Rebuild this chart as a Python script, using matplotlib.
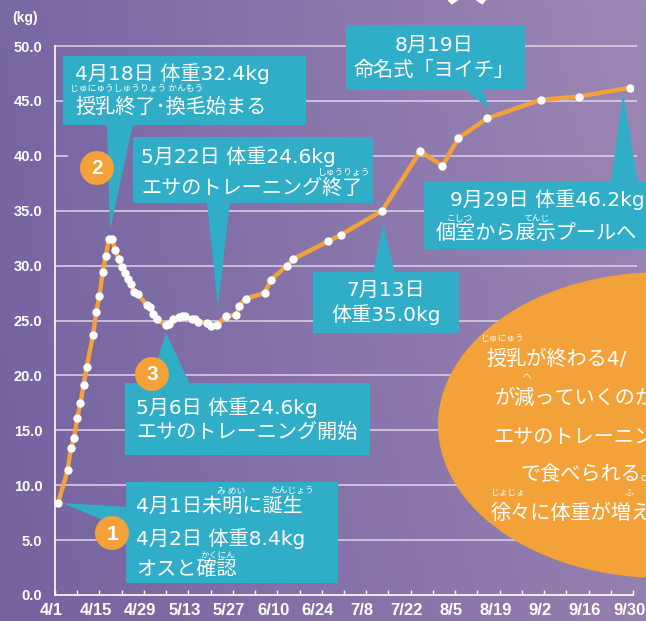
import numpy as np
import pandas as pd
import matplotlib
matplotlib.use("Agg")
import matplotlib.pyplot as plt
import matplotlib.dates as mdates
import matplotlib.transforms as mtransforms
from matplotlib.patches import Rectangle, Polygon, Circle, Ellipse

plt.rcParams['font.family'] = ['Noto Sans CJK JP', 'DejaVu Sans']
MIXED = ['DejaVu Sans', 'Noto Sans CJK JP']

# weight record (month/day, kg)
dates = ['4/2', '4/5', '4/6', '4/7', '4/8', '4/9', '4/10', '4/11', '4/13', '4/14',
         '4/15', '4/16', '4/17', '4/18', '4/19', '4/20', '4/21', '4/22', '4/23', '4/24',
         '4/25', '4/26', '4/27', '4/30', '5/1', '5/2', '5/3', '5/6', '5/7', '5/8',
         '5/10', '5/11', '5/12', '5/14', '5/15', '5/16', '5/19', '5/20', '5/22', '5/25',
         '5/28', '5/29', '5/31', '6/6', '6/8', '6/13', '6/15', '6/26', '6/30', '7/13',
         '7/25', '8/1', '8/6', '8/15', '9/1', '9/13', '9/29']
weights = [8.4, 11.4, 13.4, 14.3, 16.1, 17.5, 19.1, 20.8, 23.7, 25.8,
           27.2, 29.4, 30.9, 32.4, 32.4, 31.4, 30.6, 29.9, 29.3, 28.8,
           28.3, 27.6, 27.4, 26.4, 26.2, 25.6, 25.1, 24.6, 24.7, 25.1,
           25.3, 25.4, 25.4, 25.1, 25.1, 24.9, 24.8, 24.5, 24.6, 25.4,
           25.5, 26.3, 27.0, 27.5, 28.7, 30.0, 30.6, 32.2, 32.8, 35.0,
           40.4, 39.1, 41.6, 43.4, 45.1, 45.4, 46.2]
xtick_labels = ['4/1', '4/15', '4/29', '5/13', '5/27', '6/10', '6/24',
                '7/8', '7/22', '8/5', '8/19', '9/2', '9/16', '9/30']
yticks = np.arange(0, 51, 5)

YEAR = 2021
def to_dt(s):
    return pd.to_datetime(f'{YEAR}/{s}', format='%Y/%m/%d')

x = [to_dt(s) for s in dates]

ORANGE = '#f3a23a'
TEAL = '#31aec7'
GRID = '#ddd5ea'
W, H = 646, 621

fig = plt.figure(figsize=(W / 100, H / 100), dpi=100)

# background gradient
bg = fig.add_axes([0, 0, 1, 1], zorder=0)
tl, tr = np.array([0x77, 0x67, 0xa3]) / 255, np.array([0x9d, 0x87, 0xb5]) / 255
bl, br = np.array([0x75, 0x63, 0xa0]) / 255, np.array([0x94, 0x7f, 0xaf]) / 255
u = np.linspace(0, 1, 200)[None, :, None]
v = np.linspace(0, 1, 200)[:, None, None]
img = (1 - v) * ((1 - u) * tl + u * tr) + v * ((1 - u) * bl + u * br)
bg.imshow(img, aspect='auto', extent=[0, 1, 0, 1])
bg.axis('off')

# chart axes
ax = fig.add_axes([55 / W, 1 - 595 / H, (633 - 55) / W, (595 - 46) / H], zorder=1)
ax.set_facecolor('none')
x0, x1 = to_dt('4/1'), to_dt('9/30')
ax.set_xlim(x0, x1)
ax.set_ylim(0, 50)

for yv in yticks[1:]:
    if yv == 40:
        ax.hlines(yv, x0, x0 + pd.Timedelta(days=4), color=GRID, lw=1.1, zorder=1)
        ax.hlines(yv, x0 + pd.Timedelta(days=25), x1 + pd.Timedelta(days=1.3),
                  color=GRID, lw=1.1, zorder=1, clip_on=False)
    else:
        ax.hlines(yv, x0, x1 + pd.Timedelta(days=1.3), color=GRID, lw=1.1,
                  zorder=1, clip_on=False)

ax.plot(x, weights, color=ORANGE, lw=3.2, marker='o', ms=5,
        mfc='white', mec='white', zorder=3, solid_joinstyle='round')

ax.set_yticks(yticks)
ax.set_yticklabels([f'{v:.1f}' for v in yticks], family='Liberation Sans',
                   weight='bold', fontsize=10.5, color='white')
ax.tick_params(axis='y', length=0, pad=9)

ax.set_xticks([to_dt(s) for s in xtick_labels])
ax.set_xticklabels(xtick_labels, family=['Liberation Sans Narrow', 'Liberation Sans'],
                   weight='bold', fontsize=12, color='white')
ax.set_xticks(pd.date_range(x0, x1, freq='7D'), minor=True)
ax.tick_params(axis='x', which='both', direction='in', length=3.5, width=1,
               color='white', pad=6)
shift = mtransforms.ScaledTranslation(-4 / 100, 0, fig.dpi_scale_trans)
for lab in ax.get_xticklabels():
    lab.set_transform(lab.get_transform() + shift)
for s in ['top', 'right']:
    ax.spines[s].set_visible(False)
for s in ['left', 'bottom']:
    ax.spines[s].set_color('white')
    ax.spines[s].set_linewidth(1.2)

fig.text(12 / W, 1 - 18 / H, '(kg)', family='Liberation Sans', weight='bold',
         fontsize=10, color='white', va='center', ha='left')

# overlay in pixel coordinates for callouts
ov = fig.add_axes([0, 0, 1, 1], zorder=2)
ov.set_xlim(0, W)
ov.set_ylim(H, 0)
ov.axis('off')
ov.set_facecolor('none')

# bottom of the page title peeking in at the top edge
ov.text(466, 0, '大', fontsize=30, color='white', ha='center', va='baseline',
        weight='bold')

def box(x_a, y_a, x_b, y_b, ptr):
    ov.add_patch(Rectangle((x_a, y_a), x_b - x_a, y_b - y_a, color=TEAL, lw=0))
    ov.add_patch(Polygon(ptr, closed=True, color=TEAL, lw=0))

def txt(px, py, s, size=14.5, ha='left'):
    ov.text(px, py, s, fontsize=size, color='white', ha=ha, va='center',
            family=MIXED)

def ruby(px, py, s):
    ov.text(px, py, s, fontsize=6.3, color='white', ha='left', va='center')

def badge(px, py, n):
    ov.add_patch(Circle((px, py), 17, color=ORANGE, lw=0))
    ov.text(px, py + 1, n, fontsize=15, color='white', ha='center', va='center',
            family='Liberation Sans', weight='bold')

# (2) April 18
box(63, 56, 306, 125, [(107, 124), (133, 124), (110, 230)])
txt(75, 74, '4月18日 体重32.4kg')
ruby(70, 89, 'じゅにゅうしゅうりょう かんもう')
txt(75, 107, '授乳終了･換毛始まる')
badge(97, 168, '2')

# May 22
box(133, 137, 373, 203, [(207, 202), (230, 202), (218, 307)])
txt(141, 157, '5月22日 体重24.6kg')
ruby(318, 172, 'しゅうりょう')
txt(141, 188, 'エサのトレーニング終了')

# Aug 19
box(346, 25, 525, 90, [(465, 89), (482, 89), (490, 110)])
txt(434, 45, '8月19日', ha='center')
txt(434, 70, '命名式「ヨイチ」', ha='center')

# Sep 29
box(424, 182, 660, 249, [(611, 183), (638, 183), (623, 92)])
txt(450, 200, '9月29日 体重46.2kg')
ruby(447, 218, 'こしつ')
ruby(523, 218, 'てんじ')
txt(436, 233, '個室から展示プールへ')

# July 13
box(313, 272, 459, 333, [(373, 273), (395, 273), (383, 223)])
txt(386, 290, '7月13日', ha='center')
txt(386, 315, '体重35.0kg', ha='center')

# (3) May 6
box(125, 383, 370, 455, [(150, 384), (190, 384), (166, 333)])
badge(152, 374, '3')
txt(136, 408, '5月6日 体重24.6kg')
txt(136, 432, 'エサのトレーニング開始')

# (1) birth
box(126, 482, 338, 583, [(62, 503), (127, 507), (127, 530)])
badge(112, 533, '1')
ruby(217, 491, 'み めい')
ruby(270, 491, 'たんじょう')
txt(136, 507, '4月1日未明に誕生')
txt(136, 539, '4月2日 体重8.4kg')
ruby(200, 555, 'かくにん')
txt(136, 569, 'オスと確認')

# orange note blob (runs off the right edge, as in the source)
ov.add_patch(Ellipse((662, 425), 448, 306, color=ORANGE, lw=0))
ruby(480, 339, 'じゅにゅう')
txt(486, 359, '授乳が終わる4/')
ruby(523, 377, 'へ')
txt(495, 398, 'が減っていくのか')
txt(493, 437, 'エサのトレーニン')
txt(520, 475, 'で食べられる。')
ruby(490, 493, 'じょじょ')
ruby(625, 493, 'ふ')
txt(491, 513, '徐々に体重が増え')

fig.savefig('out.png', dpi=100)
